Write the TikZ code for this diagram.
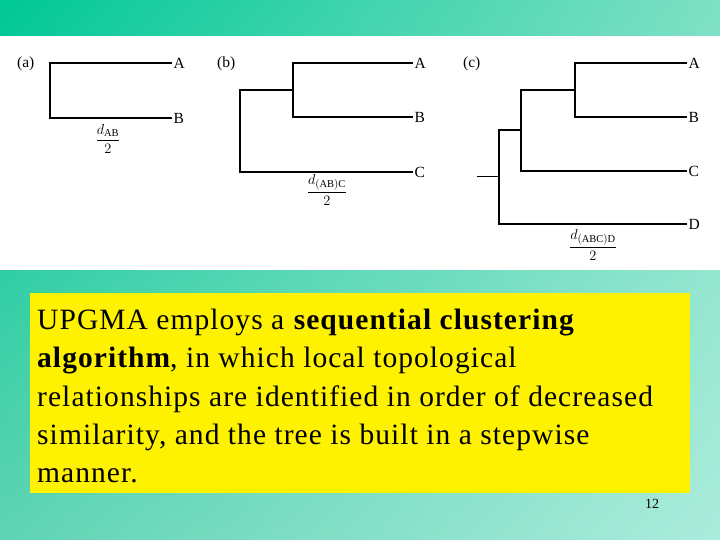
\documentclass[tikz,border=0pt]{standalone}
\usepackage{fontspec}
\setmainfont{Liberation Serif}
\usepackage{amsmath}
\usetikzlibrary{shadings}

\definecolor{tealA}{RGB}{0,200,150}
\definecolor{tealB}{RGB}{125,224,195}
\definecolor{tealC}{RGB}{95,212,178}
\definecolor{tealD}{RGB}{172,236,220}

\tikzset{
  branch/.style={line width=1.9pt},
  stem/.style={line width=1pt},
  leaf/.style={anchor=west, inner sep=1.5pt, font=\fontsize{15.5}{17}\selectfont},
  tag/.style={anchor=west, inner sep=0pt, font=\fontsize{15.5}{17}\selectfont},
  dist/.style={inner sep=0pt, font=\fontsize{15}{17}\selectfont},
}

\begin{document}
\begin{tikzpicture}[x=1pt,y=-1pt]
    \useasboundingbox (0,0) rectangle (720,540);
    \shade[upper left=tealA, upper right=tealB, lower left=tealC, lower right=tealD]
        (0,0) rectangle (720,540);
    \fill [white] (0,36) rectangle (720,270);

    % (a)
    \node[tag] (alab) at (17,64) {(a)};
    \node[leaf] (aA) at (172,63) {A};
    \node[leaf] (aB) at (172,118) {B};
    \coordinate (aR) at (50,90);
    \draw[branch] (aA.west) -| (aR) |- (aB.west);
    \node[dist] (ad) at (108,139) {$\dfrac{d_{\mathrm{AB}}}{2}$};

    % (b)
    \node[tag] (blab) at (217,64) {(b)};
    \node[leaf] (bA) at (413,63) {A};
    \node[leaf] (bB) at (413,117) {B};
    \node[leaf] (bC) at (413,172) {C};
    \coordinate (bAB) at (293,90);
    \coordinate (bR) at (240,131);
    \draw[branch] (bA.west) -| (bAB) |- (bB.west);
    \draw[branch] (bAB) -| (bR) |- (bC.west);
    \node[dist] (bd) at (327,190) {$\dfrac{d_{\mathrm{(AB)C}}}{2}$};

    % (c)
    \node[tag] (clab) at (463,64) {(c)};
    \node[leaf] (cA) at (687,63) {A};
    \node[leaf] (cB) at (687,117) {B};
    \node[leaf] (cC) at (687,171) {C};
    \node[leaf] (cD) at (687,224) {D};
    \coordinate (cAB) at (575,90);
    \coordinate (cABC) at (521,130);
    \coordinate (cR) at (499,177);
    \coordinate (cS) at (477,177);
    \draw[branch] (cA.west) -| (cAB) |- (cB.west);
    \draw[branch] (cAB) -| (cABC) |- (cC.west);
    \draw[branch] (cABC) -| (cR) |- (cD.west);
    \draw[stem] (cR) -- (cS);
    \node[dist] (cd) at (593,245) {$\dfrac{d_{\mathrm{(ABC)D}}}{2}$};

    % text box
    \node[fill=yellow, minimum width=660pt, minimum height=200pt, anchor=north west,
          inner sep=0pt] (box) at (30,293) {};
    \node[anchor=north west, align=left, inner sep=0pt,
          font=\fontsize{29.5}{38.3}\selectfont\addfontfeatures{LetterSpace=3.6}] (txt) at (37,309)
        {UPGMA employs a \textbf{sequential clustering}\\
         \textbf{algorithm}, in which local topological\\
         relationships are identified in order of decreased\\
         similarity, and the tree is built in a stepwise\\
         manner.};
    \node[font=\fontsize{14}{16}\selectfont] (page) at (652,504) {12};
\end{tikzpicture}
\end{document}
